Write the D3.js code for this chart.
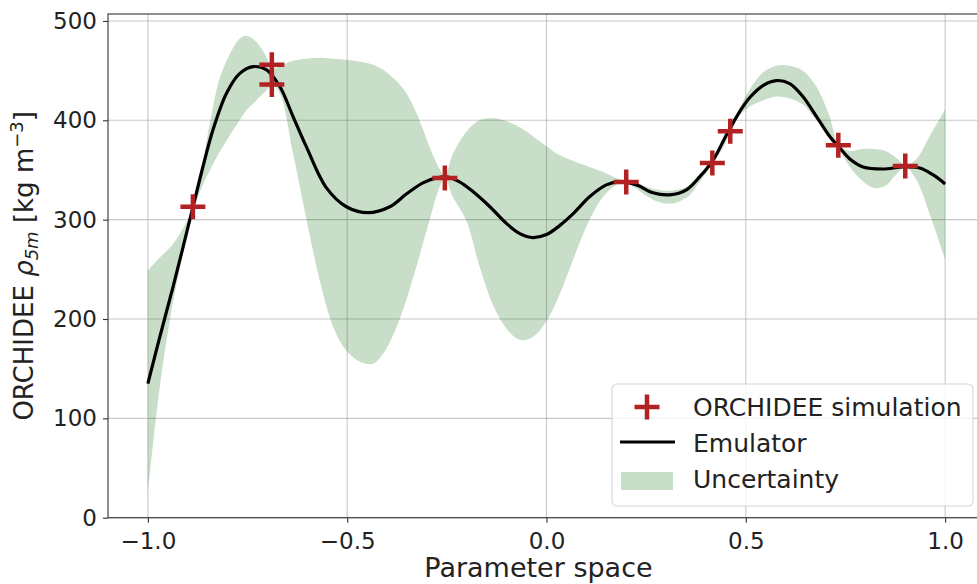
<!DOCTYPE html>
<html>
<head>
  <script src="https://d3js.org/d3.v7.min.js"></script>
  <style>
    body {
      margin: 0;
      background: #fff;
      font-family: "DejaVu Sans", sans-serif;
    }
    .tick text {
      font-size: 23px;
      fill: #222;
    }
  </style>
</head>
<body>
  <svg id="chart"></svg>
  <script>
    // ORCHIDEE simulations (red crosses)
    const simX = [-0.887, -0.689, -0.689, -0.255, 0.2, 0.416, 0.461, 0.732, 0.9];
    const simY = [313, 456, 436, 342, 338, 357, 389, 375, 354];

    // emulator mean (black line)
    const meanX = [-1.0, -0.97, -0.937, -0.891, -0.862, -0.837, -0.803, -0.77, -0.736, -0.703,
      -0.669, -0.636, -0.602, -0.552, -0.502, -0.448, -0.393, -0.351, -0.31, -0.276,
      -0.251, -0.218, -0.184, -0.142, -0.1, -0.067, -0.034, 0.0, 0.033, 0.067,
      0.108, 0.15, 0.184, 0.226, 0.267, 0.309, 0.351, 0.384, 0.418, 0.451,
      0.485, 0.51, 0.543, 0.577, 0.61, 0.643, 0.677, 0.71, 0.736, 0.761,
      0.794, 0.844, 0.894, 0.936, 0.97, 1.0];
    const meanY = [135, 182, 232, 306, 353, 390, 427, 447, 454, 451,
      434, 404, 373, 332, 313, 307, 313, 326, 337, 342,
      343, 338, 328, 313, 296, 286, 282, 285, 294, 306,
      323, 335, 338, 335, 327, 325, 330, 343, 360, 385,
      409, 423, 435, 440, 437, 424, 404, 384, 372, 361,
      353, 351, 353, 352, 345, 336];

    // uncertainty band
    const bandX = [-1.0, -0.97, -0.94, -0.912, -0.887, -0.86, -0.844, -0.82, -0.794, -0.77,
      -0.753, -0.728, -0.703, -0.689, -0.669, -0.636, -0.602, -0.569, -0.535, -0.502,
      -0.468, -0.435, -0.41, -0.38, -0.351, -0.326, -0.31, -0.293, -0.268, -0.255,
      -0.235, -0.2, -0.168, -0.134, -0.1, -0.067, -0.034, 0.0, 0.033, 0.067,
      0.108, 0.142, 0.175, 0.2, 0.226, 0.267, 0.309, 0.351, 0.384, 0.416,
      0.44, 0.461, 0.485, 0.51, 0.543, 0.577, 0.61, 0.643, 0.677, 0.71,
      0.732, 0.761, 0.79, 0.82, 0.85, 0.878, 0.9, 0.928, 0.961, 1.0];
    const bandUpper = [249, 262, 274, 291, 312, 363, 398, 442, 467, 482,
      485, 479, 464, 452, 455, 460, 462, 463, 462, 461,
      459, 456, 451, 441, 427, 407, 391, 373, 351, 344,
      366, 389, 400, 402, 399, 393, 384, 374, 365, 359,
      353, 348, 342, 339, 337, 331, 329, 333, 345, 359,
      376, 392, 413, 431, 448, 455, 455, 450, 434, 404,
      376, 369, 371, 371, 369, 362, 355, 361, 384, 411];
    const bandLower = [25, 132, 210, 266, 309, 337, 350, 368, 385, 400,
      410, 420, 430, 435, 427, 367, 300, 239, 192, 168,
      157, 155, 165, 188, 220, 253, 276, 300, 333, 342,
      323, 298, 253, 214, 190, 179, 182, 198, 225, 260,
      300, 323, 335, 337, 331, 320, 316, 322, 338, 356,
      370, 387, 405, 414, 420, 424, 422, 416, 400, 385,
      373, 353, 340, 332, 334, 346, 353, 340, 306, 260];

    const xTicks = [-1.0, -0.5, 0.0, 0.5, 1.0];
    const yTicks = [0, 100, 200, 300, 400, 500];

    const width = 977;
    const height = 584;
    const margin = { top: 14, left: 108 };
    const plotW = 877;
    const plotH = 503.7;

    const svg = d3.select("#chart")
      .attr("width", width)
      .attr("height", height);

    const x = d3.scaleLinear().domain([-1.1, 1.1]).range([0, plotW]);
    const y = d3.scaleLinear().domain([0, 507]).range([plotH, 0]);

    const g = svg.append("g")
      .attr("transform", `translate(${margin.left},${margin.top})`);

    // grid
    g.append("g").selectAll("line")
      .data(xTicks)
      .join("line")
      .attr("x1", d => x(d)).attr("x2", d => x(d))
      .attr("y1", 0).attr("y2", plotH)
      .attr("stroke", "#b0b0b0").attr("stroke-opacity", 0.7).attr("stroke-width", 1.1);
    g.append("g").selectAll("line")
      .data(yTicks)
      .join("line")
      .attr("x1", 0).attr("x2", plotW)
      .attr("y1", d => y(d)).attr("y2", d => y(d))
      .attr("stroke", "#b0b0b0").attr("stroke-opacity", 0.7).attr("stroke-width", 1.1);

    // uncertainty band
    const band = bandX.map((v, i) => ({ x: v, lo: bandLower[i], hi: bandUpper[i] }));
    const area = d3.area()
      .x(d => x(d.x))
      .y0(d => y(d.lo))
      .y1(d => y(d.hi))
      .curve(d3.curveCatmullRom.alpha(0.5));
    g.append("path")
      .datum(band)
      .attr("d", area)
      .attr("fill", "darkgreen")
      .attr("fill-opacity", 0.21);

    // emulator line
    const mean = meanX.map((v, i) => ({ x: v, y: meanY[i] }));
    const line = d3.line()
      .x(d => x(d.x))
      .y(d => y(d.y))
      .curve(d3.curveCatmullRom.alpha(0.5));
    g.append("path")
      .datum(mean)
      .attr("d", line)
      .attr("fill", "none")
      .attr("stroke", "#000")
      .attr("stroke-width", 3.2);

    // simulation markers
    const plus = "M-12.5,0H12.5M0,-12.5V12.5";
    g.append("g").selectAll("path")
      .data(simX.map((v, i) => ({ x: v, y: simY[i] })))
      .join("path")
      .attr("transform", d => `translate(${x(d.x)},${y(d.y)})`)
      .attr("d", plus)
      .attr("stroke", "#b22222")
      .attr("stroke-width", 4.5)
      .attr("fill", "none");

    // axes
    const xAxis = g.append("g")
      .attr("transform", `translate(0,${plotH})`)
      .call(d3.axisBottom(x).tickValues(xTicks).tickFormat(d3.format(".1f"))
        .tickSize(5).tickPadding(9.5));
    const yAxis = g.append("g")
      .call(d3.axisLeft(y).tickValues(yTicks).tickFormat(d3.format("d"))
        .tickSize(5).tickPadding(6));
    [xAxis, yAxis].forEach(a => {
      a.select(".domain").remove();
      a.selectAll(".tick line").attr("stroke", "#333").attr("stroke-width", 1.1);
      a.selectAll(".tick text").attr("font-family", "DejaVu Sans");
    });

    // frame
    g.append("rect")
      .attr("x", 0).attr("y", 0)
      .attr("width", plotW).attr("height", plotH)
      .attr("fill", "none")
      .attr("stroke", "#333")
      .attr("stroke-width", 1.1);

    // axis labels
    svg.append("text")
      .attr("x", margin.left + plotW / 2 - 8)
      .attr("y", 577)
      .attr("text-anchor", "middle")
      .attr("font-size", 27)
      .attr("fill", "#222")
      .text("Parameter space");

    const yl = svg.append("text")
      .attr("transform", `translate(33,${margin.top + plotH / 2}) rotate(-90)`)
      .attr("text-anchor", "middle")
      .attr("font-size", 26)
      .attr("fill", "#222");
    yl.append("tspan").text("ORCHIDEE ");
    yl.append("tspan").attr("font-style", "italic").text("ρ");
    yl.append("tspan").attr("font-style", "italic").attr("font-size", 18).attr("dy", 5).text("5m");
    yl.append("tspan").attr("dy", -5).text(" [kg m");
    yl.append("tspan").attr("font-size", 18).attr("dy", -10).text("−3");
    yl.append("tspan").attr("dy", 10).text("]");

    // legend
    const lg = svg.append("g");
    lg.append("rect")
      .attr("x", 612).attr("y", 384)
      .attr("width", 361).attr("height", 122)
      .attr("rx", 5)
      .attr("fill", "#fff").attr("fill-opacity", 0.8)
      .attr("stroke", "#d6d6d6").attr("stroke-width", 1.1);
    lg.append("path")
      .attr("transform", "translate(647,407)")
      .attr("d", plus)
      .attr("stroke", "#b22222").attr("stroke-width", 4.5);
    lg.append("line")
      .attr("x1", 620).attr("x2", 675)
      .attr("y1", 442).attr("y2", 442)
      .attr("stroke", "#000").attr("stroke-width", 3.2);
    lg.append("rect")
      .attr("x", 621).attr("y", 472)
      .attr("width", 52).attr("height", 18)
      .attr("fill", "darkgreen").attr("fill-opacity", 0.21);
    const labels = ["ORCHIDEE simulation", "Emulator", "Uncertainty"];
    lg.selectAll("text.lab")
      .data(labels)
      .join("text")
      .attr("class", "lab")
      .attr("x", 693)
      .attr("y", (d, i) => 407 + i * 36)
      .attr("dy", "0.36em")
      .attr("font-size", 25)
      .attr("fill", "#222")
      .text(d => d);
  </script>
</body>
</html>
